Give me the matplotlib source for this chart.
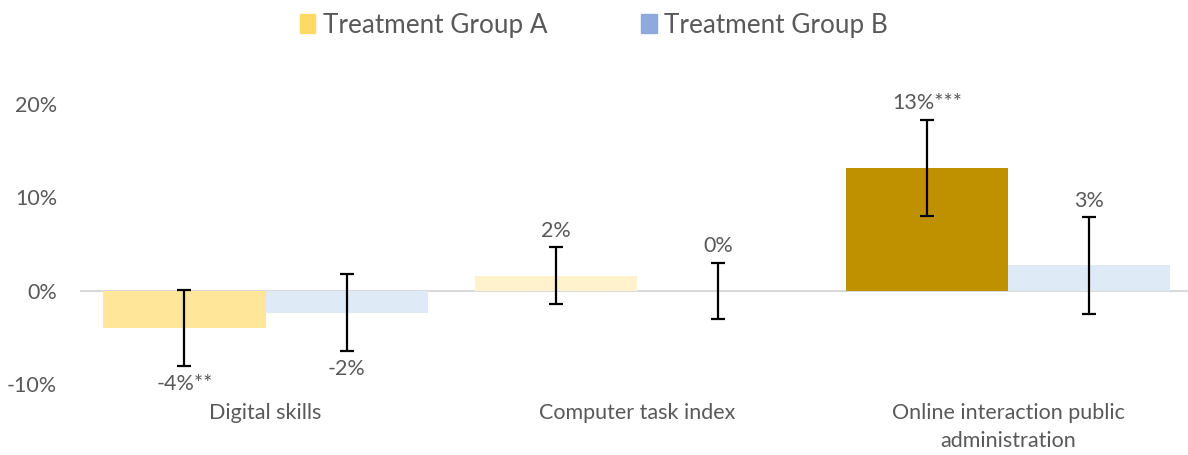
import numpy as np
import matplotlib.pyplot as plt
from matplotlib.patches import Patch

# 数据
categories = ['Digital skills', 'Computer task index', 'Online interaction public\nadministration']
group_a = [-4.0, 1.6, 13.15]
group_a_err = [4.1, 3.05, 5.15]
group_a_labels = ['-4%**', '2%', '13%***']
group_b = [-2.35, 0.0, 2.7]
group_b_err = [4.1, 3.0, 5.15]
group_b_labels = ['-2%', '0%', '3%']
y_ticks = [-10, 0, 10, 20]

# 颜色（A组每个柱子颜色不同）
colors_a = ['#FFE699', '#FFF2CC', '#BF9000']
color_b = '#DEEBF7'
text_color = '#595959'
fs = 15.5

plt.rcParams['font.family'] = ['Lato', 'DejaVu Sans']

fig = plt.figure(figsize=(11.88, 4.55), dpi=100)
ax = fig.add_axes([80 / 1188, 71 / 455, 1 - 80 / 1188, 280 / 455])

x = np.arange(len(categories))
w = 0.437

ax.bar(x - w / 2, group_a, width=w, color=colors_a, zorder=2)
ax.bar(x + w / 2, group_b, width=w, color=color_b, zorder=2)
ax.errorbar(x - w / 2, group_a, yerr=group_a_err, fmt='none', ecolor='black',
            elinewidth=1.6, capsize=5, capthick=1.6, zorder=3)
ax.errorbar(x + w / 2, group_b, yerr=group_b_err, fmt='none', ecolor='black',
            elinewidth=1.6, capsize=5, capthick=1.6, zorder=3)

# 数值标签：正值放在误差线上方，负值放在下方
for xs, vals, errs, labels in [(x - w / 2, group_a, group_a_err, group_a_labels),
                               (x + w / 2, group_b, group_b_err, group_b_labels)]:
    for xi, v, e, lab in zip(xs, vals, errs, labels):
        if v < 0:
            ax.annotate(lab, (xi, v - e), xytext=(0, -13), textcoords='offset points',
                        ha='center', va='center', fontsize=fs, color=text_color,
                        annotation_clip=False)
        else:
            ax.annotate(lab, (xi, v + e), xytext=(0, 12), textcoords='offset points',
                        ha='center', va='center', fontsize=fs, color=text_color,
                        annotation_clip=False)

# 坐标轴
ax.axhline(0, color='#D9D9D9', linewidth=1.5, zorder=1)
ax.set_xlim(-0.5, 2.485)
ax.set_ylim(-10, 20)
ax.set_yticks(y_ticks)
ax.set_yticklabels([f'{t}%' for t in y_ticks], fontsize=fs, color=text_color)
ax.set_xticks(x)
ax.set_xticklabels(categories, fontsize=fs, color=text_color, linespacing=1.5)
ax.tick_params(axis='both', length=0)
ax.tick_params(axis='x', pad=14)
ax.tick_params(axis='y', pad=16.5)
for s in ax.spines.values():
    s.set_visible(False)

# 图例
handles = [Patch(color='#FFD966', label='Treatment Group A'),
           Patch(color='#8EA9DB', label='Treatment Group B')]
fig.legend(handles=handles, loc='center', bbox_to_anchor=(0.5, 1 - 25 / 455), ncol=2,
           frameon=False, fontsize=18.8, handlelength=0.58, handleheight=0.75,
           handletextpad=0.3, columnspacing=3.6, labelcolor=text_color)

fig.savefig('out.png', dpi=100)
